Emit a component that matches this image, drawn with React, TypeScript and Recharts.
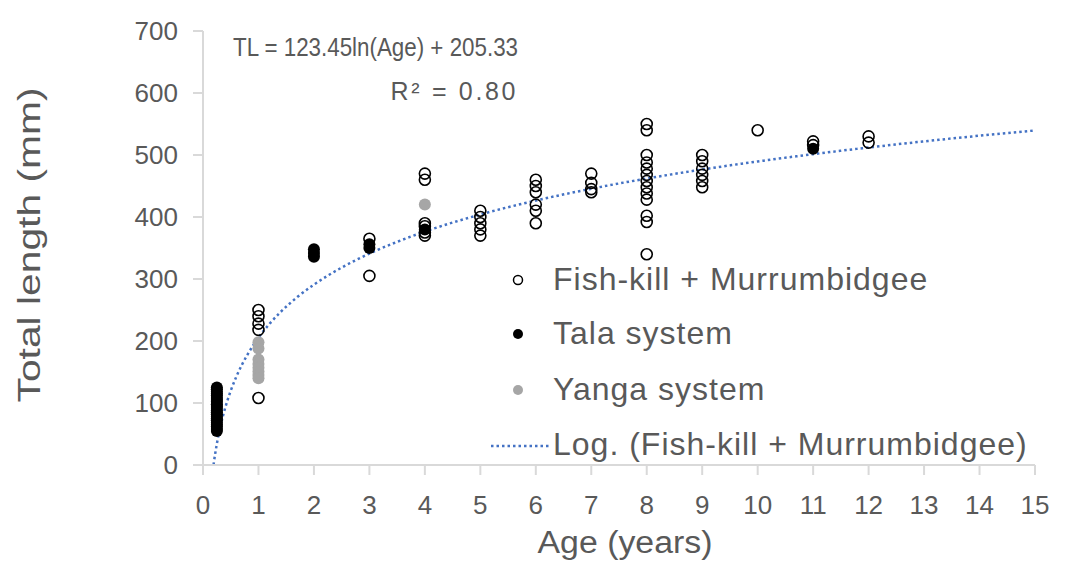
import React from 'react';
import { ComposedChart, Scatter, Line, XAxis, YAxis, Legend } from 'recharts';

const FONT = '"Liberation Sans", Arial, sans-serif';
const TEXT = '#595959';
const AXIS = '#d9d9d9';
const W = 1067;
const H = 568;

const xTicks = [0, 1, 2, 3, 4, 5, 6, 7, 8, 9, 10, 11, 12, 13, 14, 15];
const yTicks = [0, 100, 200, 300, 400, 500, 600, 700];

const seriesNames = ['Fish-kill + Murrumbidgee', 'Tala system', 'Yanga system', 'Log. (Fish-kill + Murrumbidgee)'];
const equationLine = 'TL = 123.45ln(Age) + 205.33';
const rSquaredLine = 'R² = 0.80';

// [age (years), total length (mm)]
const fishKill: [number, number][] = [
  [1, 250], [1, 240], [1, 228], [1, 218], [1, 108],
  [3, 365], [3, 305],
  [4, 470], [4, 460], [4, 390], [4, 385], [4, 375], [4, 370],
  [5, 410], [5, 400], [5, 390], [5, 380], [5, 370],
  [6, 460], [6, 450], [6, 440], [6, 420], [6, 410], [6, 390],
  [7, 470], [7, 455], [7, 445], [7, 440],
  [8, 550], [8, 540], [8, 500], [8, 488], [8, 478], [8, 468], [8, 458], [8, 448], [8, 438], [8, 428], [8, 402], [8, 392], [8, 340],
  [9, 500], [9, 490], [9, 478], [9, 468], [9, 458], [9, 448],
  [10, 540],
  [11, 522], [11, 516],
  [12, 530], [12, 520],
];

const tala: [number, number][] = [
  [0.25, 125], [0.25, 122], [0.25, 118], [0.25, 115], [0.25, 112], [0.25, 108], [0.25, 105], [0.25, 102],
  [0.25, 98], [0.25, 95], [0.25, 92], [0.25, 88], [0.25, 85], [0.25, 82], [0.25, 78], [0.25, 75],
  [0.25, 72], [0.25, 68], [0.25, 65], [0.25, 62], [0.25, 58], [0.25, 55],
  [2, 348], [2, 342], [2, 336],
  [3, 356], [3, 350],
  [4, 380],
  [11, 510],
];

const yanga: [number, number][] = [
  [1, 198], [1, 188], [1, 170], [1, 163], [1, 157], [1, 151], [1, 145], [1, 140],
  [4, 420],
];

// Trendline as printed on the chart: TL = 123.45 ln(Age) + 205.33
const trendA = 123.45;
const trendB = 205.33;
const trendAges = [0.19, 0.2, 0.22, 0.25, 0.28, 0.32, 0.36, 0.4, 0.45, 0.5, 0.6, 0.7, 0.8, 0.9, 1, 1.2, 1.4, 1.7, 2, 2.5, 3, 3.5, 4, 5, 6, 7, 8, 9, 10, 11, 12, 13, 14, 15];

const toPoints = (arr: [number, number][]) => arr.map(([age, tl]) => ({ age, tl }));
const fishKillData = toPoints(fishKill);
const talaData = toPoints(tala);
const yangaData = toPoints(yanga);
const trendData = trendAges.map((age) => ({ age, tl: trendA * Math.log(age) + trendB }));

const OpenCircle = (p: any) => <circle cx={p.cx} cy={p.cy} r={5.5} fill="none" stroke="#000" strokeWidth={1.6} />;
const BlackDot = (p: any) => <circle cx={p.cx} cy={p.cy} r={6} fill="#000" />;
const GrayDot = (p: any) => <circle cx={p.cx} cy={p.cy} r={6} fill="#a6a6a6" />;

const renderLegend = () => {
  const rowY = [278, 332, 388, 443];
  const textX = 553;
  const markX = 518;
  const txt = (i: number) => (
    <text x={textX} y={rowY[i]} dy="0.36em" fill={TEXT} fontSize={32} fontFamily={FONT} letterSpacing={1}>
      {seriesNames[i]}
    </text>
  );
  return (
    <svg width={W} height={H} style={{ display: 'block' }}>
      <circle cx={markX} cy={rowY[0] + 2} r={4.5} fill="none" stroke="#000" strokeWidth={1.5} />
      {txt(0)}
      <circle cx={markX} cy={rowY[1] + 2} r={5} fill="#000" />
      {txt(1)}
      <circle cx={markX} cy={rowY[2] + 2} r={5} fill="#a6a6a6" />
      {txt(2)}
      <line x1={491} y1={rowY[3] + 3} x2={549} y2={rowY[3] + 3} stroke="#4472C4" strokeWidth={2.5} strokeDasharray="2.5 3" />
      {txt(3)}
    </svg>
  );
};

const XTitle = (props: any) => {
  const vb = props.viewBox;
  return (
    <text x={625} y={vb.y + 88} textAnchor="middle" fill={TEXT} fontSize={31} fontFamily={FONT} textLength={175} lengthAdjust="spacingAndGlyphs">
      Age (years)
    </text>
  );
};

const YTitle = () => (
  <text x={28} y={245} transform="rotate(-90 28 245)" textAnchor="middle" dy="0.36em" fill={TEXT} fontSize={32} fontFamily={FONT} textLength={315} lengthAdjust="spacingAndGlyphs">
    Total length (mm)
  </text>
);

export default function App() {
  return (
    <div style={{ position: 'relative', width: W, height: H, margin: -8 }}>
      <ComposedChart width={W} height={H} margin={{ top: 31, right: 32, bottom: 0, left: 0 }}>
        <XAxis
          type="number"
          dataKey="age"
          domain={[0, 15]}
          ticks={xTicks}
          interval={0}
          allowDataOverflow
          height={103}
          stroke={AXIS}
          strokeWidth={2}
          tickSize={10}
          tickMargin={21}
          tick={{ fill: TEXT, fontSize: 26, fontFamily: FONT }}
          label={<XTitle />}
        />
        <YAxis
          type="number"
          dataKey="tl"
          domain={[0, 700]}
          ticks={yTicks}
          interval={0}
          allowDataOverflow
          width={203}
          stroke={AXIS}
          strokeWidth={2}
          tickSize={10}
          tickMargin={15}
          tick={{ fill: TEXT, fontSize: 26, fontFamily: FONT }}
          label={<YTitle />}
        />
        <Scatter name={seriesNames[0]} data={fishKillData} shape={OpenCircle} isAnimationActive={false} />
        <Scatter name={seriesNames[1]} data={talaData} shape={BlackDot} isAnimationActive={false} />
        <Scatter name={seriesNames[2]} data={yangaData} shape={GrayDot} isAnimationActive={false} />
        <Line
          name={seriesNames[3]}
          data={trendData}
          dataKey="tl"
          type="monotone"
          stroke="#4472C4"
          strokeWidth={2.5}
          strokeDasharray="2.5 3"
          dot={false}
          activeDot={false}
          isAnimationActive={false}
        />
        <Legend
          layout="vertical"
          align="center"
          verticalAlign="middle"
          content={renderLegend}
          wrapperStyle={{ left: 0, top: 0, width: W, height: H, pointerEvents: 'none' }}
        />
      </ComposedChart>
      <svg width={W} height={H} style={{ position: 'absolute', left: 0, top: 0, pointerEvents: 'none' }}>
        <text x={233} y={47} dy="0.36em" fill={TEXT} fontSize={25} fontFamily={FONT} textLength={285} lengthAdjust="spacingAndGlyphs">
          {equationLine}
        </text>
        <text x={453} y={91} dy="0.36em" textAnchor="middle" fill={TEXT} fontSize={25} fontFamily={FONT} textLength={125} lengthAdjust="spacing">
          {rSquaredLine}
        </text>
      </svg>
    </div>
  );
}
